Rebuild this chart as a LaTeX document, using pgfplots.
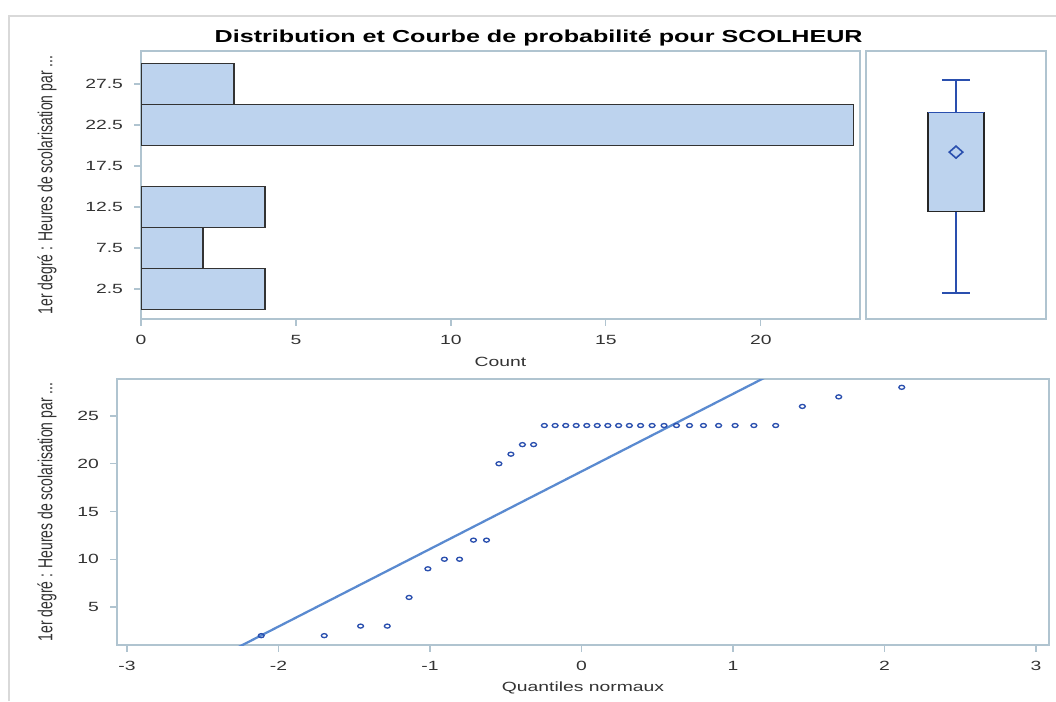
\documentclass[border=0pt]{standalone}
\usepackage{fontspec}
\setmainfont{Liberation Sans}
\newfontfamily\sas[FakeStretch=1.45]{Liberation Sans}
\newfontfamily\narrow[FakeStretch=0.69]{Liberation Sans}
\usepackage{pgfplots}
\usepgfplotslibrary{statistics}
\pgfplotsset{compat=1.18}
\definecolor{axl}{HTML}{B0C4D0}
\definecolor{barfill}{HTML}{BDD3EE}
\definecolor{dblue}{HTML}{2A4FAE}
\definecolor{lblue}{HTML}{5A8AD0}
\definecolor{txt}{HTML}{333333}
\pgfplotsset{
  sasaxis/.style={
    scale only axis, anchor=south west,
    axis line style={axl, line width=1.2pt},
    tick style={axl, line width=0.9pt},
    tick align=outside, major tick length=5pt, tick pos=left,
    ticklabel style={font=\sas\fontsize{10}{12}\selectfont, text=txt},
    xticklabel style={yshift=-3.5pt},
    yticklabel style={xshift=-5pt},
    xlabel style={font=\sas\fontsize{10}{12}\selectfont, text=txt, at={(axis description cs:0.5,0)}, anchor=center, yshift=-32pt},
    ylabel style={font=\narrow\fontsize{15.2}{17}\selectfont, text=txt, anchor=center},
  }
}
\pgfplotstableread{
x y
-2.114 2
-1.698 2
-1.458 3
-1.282 3
-1.138 6
-1.014 9
-0.905 10
-0.805 10
-0.713 12
-0.627 12
-0.545 20
-0.466 21
-0.390 22
-0.316 22
-0.245 24
-0.174 24
-0.104 24
-0.035 24
0.035 24
0.104 24
0.174 24
0.245 24
0.316 24
0.390 24
0.466 24
0.545 24
0.627 24
0.713 24
0.805 24
0.905 24
1.014 24
1.138 24
1.282 24
1.458 26
1.698 27
2.114 28
}\qqdata
\begin{document}
\begin{tikzpicture}
\useasboundingbox (0,0) rectangle (792pt,525.75pt);
\draw[black!15, line width=0.8pt] (6.75pt,0) -- (6.75pt,513.75pt) -- (792pt,513.75pt);
\node[font=\sas\bfseries\fontsize{13}{15}\selectfont, text=black] at (404pt,497pt) {Distribution et Courbe de probabilité pour SCOLHEUR};
% histogram
\begin{axis}[sasaxis, at={(105.75pt,286.5pt)}, width=539.25pt, height=201pt,
  xmin=0, xmax=23.2, ymin=-1.16, ymax=31.52,
  xtick={0,5,10,15,20}, xticklabels={0,5,10,15,20},
  ytick={2.5,7.5,12.5,17.5,22.5,27.5}, yticklabels={2.5,7.5,12.5,17.5,22.5,27.5},
  xlabel={Count},
  ylabel={1er degré : Heures de scolarisation par ...},
  ylabel style={at={(axis description cs:-0.1307,0.5)}},
  xbar, bar width=5, bar shift=0pt]
\addplot[fill=barfill, draw=black!80, line width=0.8pt] coordinates {(4,2.5) (2,7.5) (4,12.5) (23,22.5) (3,27.5)};
\end{axis}
% box plot
\begin{axis}[sasaxis, at={(649.5pt,286.5pt)}, width=135pt, height=201pt,
  xmin=0, xmax=1, ymin=-1.16, ymax=31.52, xtick=\empty, ytick=\empty,
  boxplot/every box/.style={draw=black!85, fill=barfill, line width=0.8pt},
  boxplot/every whisker/.style={dblue, line width=1pt},
  boxplot/every median/.style={dblue, line width=1pt}]
\addplot[draw=dblue, line width=1pt, boxplot prepared={draw position=0.5, lower whisker=2, lower quartile=12, median=24, upper quartile=24, upper whisker=28, box extend=0.311, whisker extend=0.156, draw direction=y}] coordinates {};
\addplot[only marks, mark=diamond, mark size=4.5pt, dblue, mark options={line width=1.2pt, xscale=1.5, fill=none}] coordinates {(0.5,19.19)};
\end{axis}
% QQ plot
\begin{axis}[sasaxis, at={(87.75pt,42pt)}, width=699pt, height=199.5pt,
  xmin=-3.066, xmax=3.086, ymin=1.02, ymax=28.87,
  xtick={-3,-2,-1,0,1,2,3}, xticklabels={-3,-2,-1,0,1,2,3},
  ytick={5,10,15,20,25}, yticklabels={5,10,15,20,25},
  xlabel={Quantiles normaux},
  ylabel={1er degré : Heures de scolarisation par ...},
  ylabel style={at={(axis description cs:-0.0751,0.5)}}]
\addplot[lblue, line width=1.7pt] coordinates {(-3,-5.17) (3,43.55)};
\addplot[only marks, mark=o, mark size=1.5pt, dblue, mark options={line width=1pt, xscale=1.45}] table[x=x,y=y] {\qqdata};
\end{axis}
\end{tikzpicture}
\end{document}
